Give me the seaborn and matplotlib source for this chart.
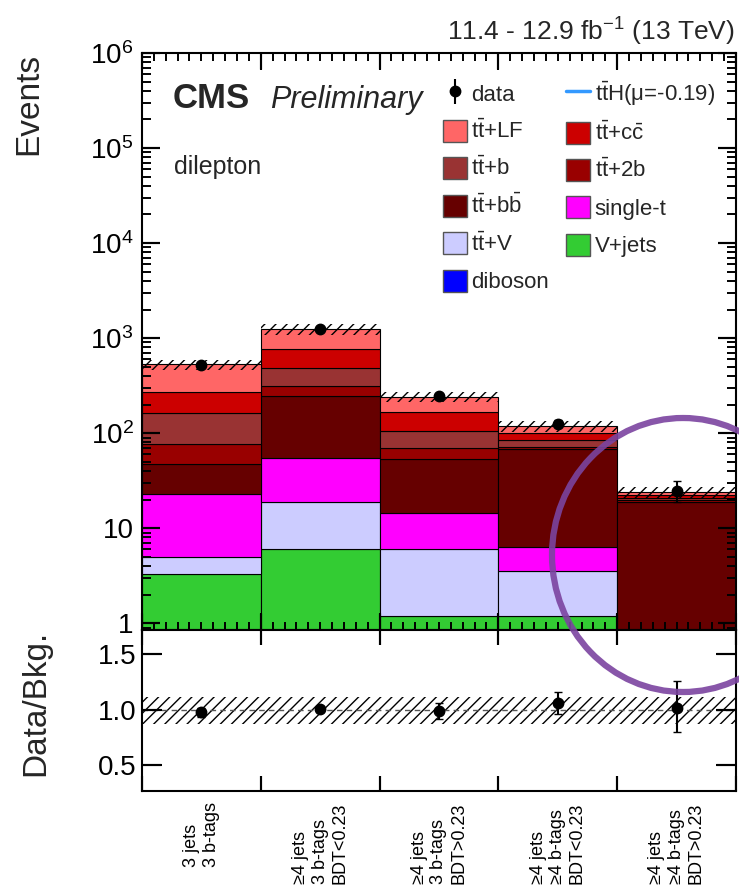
import seaborn as sns
import matplotlib.pyplot as plt
import matplotlib.ticker as mticker
from matplotlib import transforms
from matplotlib.collections import LineCollection
from matplotlib.patches import Patch, Ellipse
from matplotlib.lines import Line2D
import numpy as np
import pandas as pd

# --- Kategorien (x-Achse) ---
bin_labels = ["3 jets\n3 b-tags",
              "≥4 jets\n3 b-tags\nBDT<0.23",
              "≥4 jets\n3 b-tags\nBDT>0.23",
              "≥4 jets\n≥4 b-tags\nBDT<0.23",
              "≥4 jets\n≥4 b-tags\nBDT>0.23"]

# --- Untergrund-Beitraege pro Kategorie (Events) ---
diboson = [0.1, 0.2, 0.05, 0.05, 0.02]
vjets = [3.2, 5.8, 1.15, 1.15, 0.03]
ttv = [1.7, 12.9, 4.9, 2.35, 0.45]
singlet = [18.1, 35.3, 8.4, 2.75, 0.3]
ttbb = [24, 191, 38.7, 61.7, 18.1]
tt2b = [29, 67, 16.8, 4.0, 0.7]
ttb = [89, 168, 35, 12, 1.0]
ttcc = [103, 293, 63, 17, 2.0]
ttlf = [261, 471, 75, 18, 1.6]

# --- Daten ---
data = [520, 1240, 244, 126, 24.7]
data_err_lo = [22, 35, 16, 11, 5.8]
data_err_hi = [23, 36, 16, 12, 6.8]

# --- Verhaeltnis Daten/Untergrund ---
ratio = [0.98, 1.01, 0.99, 1.06, 1.02]
ratio_err_lo = [0.04, 0.03, 0.07, 0.10, 0.22]
ratio_err_hi = [0.04, 0.03, 0.07, 0.10, 0.24]

# relative Unsicherheit des Untergrunds (Schraffur)
unc_lo = [0.13, 0.13, 0.13, 0.13, 0.13]
unc_hi = [0.12, 0.12, 0.12, 0.12, 0.12]

# Prozesse von unten nach oben
processes = ["diboson", "V+jets", "ttV", "single-t", "ttbb", "tt2b", "ttb", "ttcc", "ttLF"]
yields = [diboson, vjets, ttv, singlet, ttbb, tt2b, ttb, ttcc, ttlf]
colors = {"ttLF": "#ff6666", "ttcc": "#cc0000", "ttb": "#993333", "tt2b": "#990000",
          "ttbb": "#660000", "single-t": "#ff00ff", "ttV": "#ccccff",
          "V+jets": "#33cc33", "diboson": "#0000ff"}
tb = r"t$\bar{\mathrm{t}}$"
names = {"ttLF": tb + "+LF", "ttcc": tb + r"+c$\bar{\mathrm{c}}$", "ttb": tb + "+b",
         "tt2b": tb + "+2b", "ttbb": tb + r"+b$\bar{\mathrm{b}}$", "single-t": "single-t",
         "ttV": tb + "+V", "V+jets": "V+jets", "diboson": "diboson"}

centers = np.arange(len(bin_labels)) + 0.5
edges = np.arange(len(bin_labels) + 1)

rows = []
for proc, vals in zip(processes, yields):
    for c, v in zip(centers, vals):
        rows.append({"bin": c, "process": proc, "events": v})
df = pd.DataFrame(rows)
total = np.sum(np.array(yields), axis=0)

sns.set_style("ticks")
plt.rcParams["font.family"] = ["Liberation Sans", "DejaVu Sans"]
plt.rcParams["mathtext.fontset"] = "custom"
plt.rcParams["mathtext.rm"] = "Liberation Sans"
plt.rcParams["mathtext.it"] = "Liberation Sans:italic"
plt.rcParams["mathtext.bf"] = "Liberation Sans:bold"
plt.rcParams["hatch.linewidth"] = 1.0
plt.rcParams["axes.linewidth"] = 1.5
plt.rcParams["axes.edgecolor"] = "black"
plt.rcParams["axes.axisbelow"] = False
plt.rcParams["xtick.color"] = "black"
plt.rcParams["ytick.color"] = "black"
plt.rcParams["xtick.direction"] = "in"
plt.rcParams["ytick.direction"] = "in"
plt.rcParams["xtick.top"] = True
plt.rcParams["ytick.right"] = True

fig = plt.figure(figsize=(7.39, 8.92), dpi=100)
ax = fig.add_axes([0.1921, 0.2937, 0.8038, 0.6469])
ax2 = fig.add_axes([0.1921, 0.1132, 0.8038, 0.1805])

# --- Hauptpanel: gestapelte Histogramme ---
sns.histplot(data=df, x="bin", weights="events", hue="process",
             hue_order=processes[::-1], palette=colors, multiple="stack",
             bins=len(bin_labels), binrange=(0, len(bin_labels)), shrink=1,
             alpha=1, edgecolor="black", linewidth=0.8, legend=False, ax=ax)
ax.bar(centers, total * (np.array(unc_lo) + np.array(unc_hi)),
       bottom=total * (1 - np.array(unc_lo)), width=1, fill=False,
       hatch="///", edgecolor="black", linewidth=0, zorder=5)
ax.errorbar(centers, data, yerr=[data_err_lo, data_err_hi], fmt="o",
            color="black", ms=7.5, elinewidth=1.5, capsize=3, zorder=6)
ax.set_axisbelow(False)

ax.set_yscale("log")
ax.set_ylim(0.85, 1e6)
ax.set_xlim(0, 5)
ax.set_xlabel("")
ax.set_ylabel("Events", fontsize=24, loc="top")
ax.yaxis.set_label_coords(-0.164, 1.0)


def log_fmt(v, pos):
    e = int(round(np.log10(v)))
    if e == 0:
        return "1"
    if e == 1:
        return "10"
    return r"$10^{%d}$" % e


ax.yaxis.set_major_locator(mticker.LogLocator(base=10, numticks=10))
ax.yaxis.set_minor_locator(mticker.LogLocator(base=10, subs=np.arange(2, 10), numticks=20))
ax.yaxis.set_major_formatter(mticker.FuncFormatter(log_fmt))
ax.yaxis.set_minor_formatter(mticker.NullFormatter())
ax.set_xticks(edges)
ax.set_xticks(np.arange(0, 5.01, 0.1), minor=True)
ax.tick_params(which="both", direction="in", top=True, right=True, labelbottom=False,
               color="black")
ax.tick_params(axis="y", which="major", length=13, width=1.5, labelsize=20, pad=6)
ax.tick_params(axis="y", which="minor", length=6.5, width=1.2)
ax.tick_params(axis="x", which="major", length=12, width=1.5)
ax.tick_params(axis="x", which="minor", length=6, width=1.2)

ax.text(0.052, 0.905, "CMS", transform=ax.transAxes, fontsize=25,
        fontweight="bold", va="baseline")
ax.text(0.215, 0.905, "Preliminary", transform=ax.transAxes, fontsize=22,
        style="italic", va="baseline")
ax.text(0.054, 0.79, "dilepton", transform=ax.transAxes, fontsize=18, va="baseline")
fig.text(0.995, 1 - 32 / 892, "11.4 - 12.9 fb$^{-1}$ (13 TeV)", ha="right",
         va="center", fontsize=19)

# --- Legende ---
patch = {p: Patch(facecolor=colors[p], edgecolor="#555555", linewidth=1) for p in processes}
data_h = (Line2D([], [], marker="|", ms=18, mew=1.5, color="black", ls="none"),
          Line2D([], [], marker="o", ms=7.5, color="black", ls="none"))
tth = Line2D([], [], color="#3399ff", lw=2.5)
col1 = ["ttLF", "ttb", "ttbb", "ttV", "diboson"]
col2 = ["ttcc", "tt2b", "single-t", "V+jets"]
handles = [data_h] + [patch[p] for p in col1] + [tth] + [patch[p] for p in col2]
labels = ["data"] + [names[p] for p in col1] + [tb + "H(μ=-0.19)"] + [names[p] for p in col2]
ax.legend(handles, labels, ncol=2, loc="upper left", bbox_to_anchor=(0.506, 0.954),
          frameon=False, fontsize=16, handlelength=1.1, handleheight=1.15,
          handletextpad=0.2, labelspacing=0.62, columnspacing=0.75,
          borderpad=0, borderaxespad=0)

# --- Verhaeltnis-Panel ---
ax2.bar(centers, np.array(unc_lo) + np.array(unc_hi), bottom=1 - np.array(unc_lo),
        width=1, fill=False, hatch="///", edgecolor="black", linewidth=0)
ax2.axhline(1.0, color="#555555", lw=1, ls=(0, (4, 3)))
ax2.errorbar(centers, ratio, yerr=[ratio_err_lo, ratio_err_hi], fmt="o",
             color="black", ms=7.5, elinewidth=1.5, capsize=3, zorder=6)
ax2.set_axisbelow(False)
ax2.set_xlim(0, 5)
ax2.set_ylim(0.27, 1.72)
ax2.set_yticks([0.5, 1.0, 1.5])
ax2.yaxis.set_major_formatter(mticker.FormatStrFormatter("%.1f"))
ax2.set_xticks(edges)
ax2.set_xticklabels([])
ax2.set_xticks(centers, bin_labels, minor=True)
ax2.tick_params(which="both", direction="in", top=True, right=True, color="black")
ax2.tick_params(axis="x", which="major", length=11, width=1.5)
ax2.tick_params(axis="x", which="minor", length=0, labelsize=13, pad=8, labelrotation=90)
ax2.tick_params(axis="y", which="major", length=14, width=1.5, labelsize=20, pad=4)
for lab in ax2.get_xticklabels(minor=True):
    lab.set_multialignment("left")
ax2.set_ylabel("Data/Bkg.", fontsize=24)
ax2.yaxis.set_label_coords(-0.152, 0.55)


# Tickmarken zusaetzlich als Linien (ROOT-Stil, innen, alle Seiten)
def add_ticks(a, axis, locs, length_px, lw):
    pos = a.get_position()
    if axis == "y":
        frac = length_px / (pos.width * fig.get_figwidth() * fig.dpi)
        trans = transforms.blended_transform_factory(a.transAxes, a.transData)
        segs = [[(0, v), (frac, v)] for v in locs] + [[(1 - frac, v), (1, v)] for v in locs]
    else:
        frac = length_px / (pos.height * fig.get_figheight() * fig.dpi)
        trans = transforms.blended_transform_factory(a.transData, a.transAxes)
        segs = [[(v, 0), (v, frac)] for v in locs] + [[(v, 1 - frac), (v, 1)] for v in locs]
    a.add_collection(LineCollection(segs, colors="black", linewidths=lw,
                                    transform=trans, zorder=4), autolim=False)


add_ticks(ax, "y", ax.yaxis.get_majorticklocs(), 18, 1.5)
add_ticks(ax, "y", ax.yaxis.get_minorticklocs(), 9, 1.2)
add_ticks(ax, "x", ax.xaxis.get_majorticklocs(), 16, 1.5)
add_ticks(ax, "x", ax.xaxis.get_minorticklocs(), 8, 1.2)
add_ticks(ax2, "y", ax2.yaxis.get_majorticklocs(), 20, 1.5)
add_ticks(ax2, "x", ax2.xaxis.get_majorticklocs(), 15, 1.5)

# Markierung (Kreis) aus der Vorlage
fig.add_artist(Ellipse((683 / 739, 1 - 555 / 892), width=262 / 739, height=274 / 892,
                       transform=fig.transFigure, fill=False, edgecolor="#7b44a0",
                       lw=4.5, alpha=0.9, zorder=20))

fig.savefig("out.png", dpi=100)
